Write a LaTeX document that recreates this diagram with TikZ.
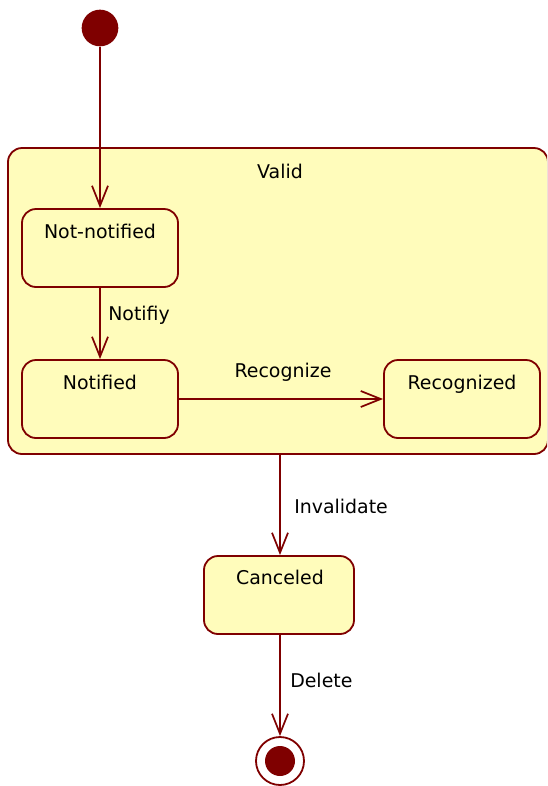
\documentclass[tikz,border=0pt]{standalone}
\usepackage{fontspec}
\setmainfont{DejaVu Sans}
\usetikzlibrary{arrows.meta}
\definecolor{umlred}{HTML}{7F0000}
\definecolor{umlfill}{HTML}{FFFCBB}
\tikzset{
  statebox/.style={draw=umlred, fill=umlfill, line width=1.35pt, rounded corners=10.5pt,
    minimum width=117pt, minimum height=58.5pt, inner sep=0pt},
  txt/.style={font=\fontsize{14.2pt}{16pt}\selectfont, text=black, inner sep=0pt, anchor=base},
  trans/.style={draw=umlred, line width=1.3pt, -{Straight Barb[length=15pt,width=12pt]}},
}
\begin{document}
\begin{tikzpicture}[x=0.75pt,y=-0.75pt]
\useasboundingbox (0,0) rectangle (547,786);
\begin{scope}
\clip (0,0) rectangle (547,786);
% composite state
\node[draw=umlred, fill=umlfill, line width=1.35pt, rounded corners=10.5pt,
  minimum width=405pt, minimum height=229.5pt, inner sep=0pt] (valid) at (278,301) {};
\end{scope}
\node[txt] (validlbl) at (280,178) {Valid};
% initial
\node[circle, fill=umlred, minimum size=27.5pt, inner sep=0pt] (init) at (100,28) {};
% states
\node[statebox] (nn) at (100,248) {};
\node[txt] at (100,238.5) {Not-notified};
\node[statebox] (nt) at (100,399) {};
\node[txt] at (100,389.5) {Notified};
\node[statebox] (rc) at (462,399) {};
\node[txt] at (462,389.5) {Recognized};
\node[statebox, minimum width=112.5pt] (cn) at (279,595) {};
\node[txt] at (280,584.5) {Canceled};
% final
\node[circle, draw=umlred, fill=white, line width=1.35pt, minimum size=36pt, inner sep=0pt] (fin) at (280,761) {};
\node[circle, fill=umlred, minimum size=22.5pt, inner sep=0pt] at (fin.center) {};
% transitions
\draw[trans] (init) -- (nn.north);
\draw[trans] (nn.south) -- (nt.north);
\node[txt, anchor=base west] at (108,320.5) {Notifiy};
\draw[trans] (nt.east) -- (rc.west);
\node[txt] at (283,377.5) {Recognize};
\draw[trans] (valid.south -| cn.north) ++(1,0) coordinate (vs) (vs) -- (vs |- cn.north);
\node[txt, anchor=base west] at (294,513.5) {Invalidate};
\draw[trans] (cn.south) ++(1,0) coordinate (cs) (cs) -- (cs |- fin.north);
\node[txt, anchor=base west] at (290,687) {Delete};
\end{tikzpicture}
\end{document}
